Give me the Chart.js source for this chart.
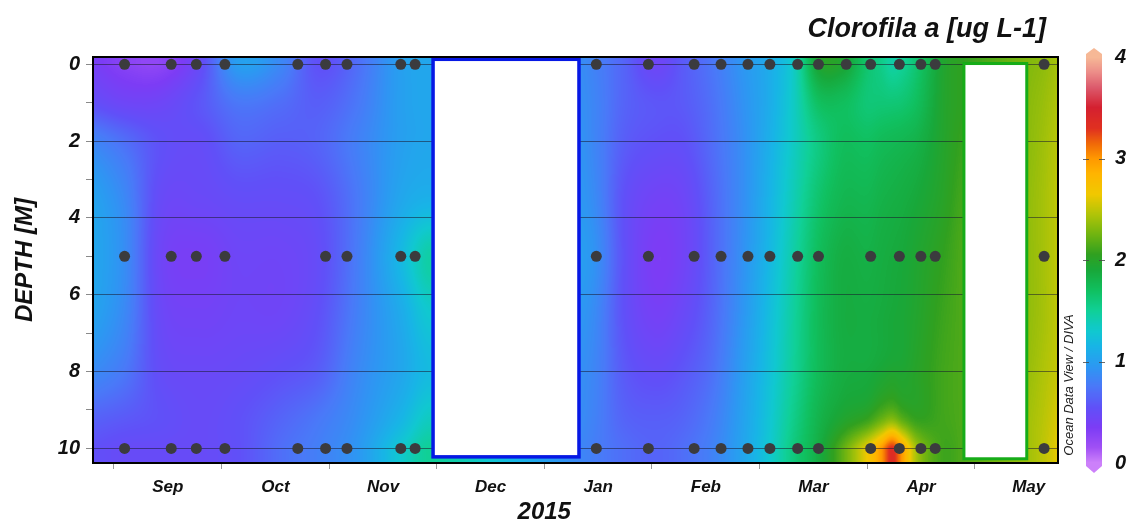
<!DOCTYPE html>
<html>
<head>
<meta charset="utf-8">
<title>Clorofila a</title>
<script src="https://cdn.jsdelivr.net/npm/chart.js@4.4.1/dist/chart.umd.min.js"></script>
<style>
  html, body { margin: 0; padding: 0; background: #fff; }
  #wrap { width: 1132px; height: 523px; }
</style>
</head>
<body>
<div id="wrap"><canvas id="chl"></canvas></div>
<script>
// Fechas de muestreo en cada profundidad (0, 5 y 10 m)
const surfaceDates = ['2014-09-04', '2014-09-17', '2014-09-24', '2014-10-02', '2014-10-23', '2014-10-31',
  '2014-11-06', '2014-11-21', '2014-11-25', '2015-01-16', '2015-01-31', '2015-02-12', '2015-02-19',
  '2015-02-26', '2015-03-04', '2015-03-12', '2015-03-18', '2015-03-26', '2015-04-02', '2015-04-10',
  '2015-04-16', '2015-04-20', '2015-05-21'];
const midDates = ['2014-09-04', '2014-09-17', '2014-09-24', '2014-10-02', '2014-10-31',
  '2014-11-06', '2014-11-21', '2014-11-25', '2015-01-16', '2015-01-31', '2015-02-12', '2015-02-19',
  '2015-02-26', '2015-03-04', '2015-03-12', '2015-03-18', '2015-04-02', '2015-04-10',
  '2015-04-16', '2015-04-20', '2015-05-21'];
const bottomDates = ['2014-09-04', '2014-09-17', '2014-09-24', '2014-10-02', '2014-10-23', '2014-10-31',
  '2014-11-06', '2014-11-21', '2014-11-25', '2015-01-16', '2015-01-31', '2015-02-12', '2015-02-19',
  '2015-02-26', '2015-03-04', '2015-03-12', '2015-03-18', '2015-04-02', '2015-04-10',
  '2015-04-16', '2015-04-20', '2015-05-21'];

// Malla del campo de clorofila (ug/L): un perfil por fecha, valores en gridDepths
const gridDates = ['2014-08-25', '2014-09-04', '2014-09-14', '2014-09-25', '2014-10-06', '2014-10-18',
  '2014-10-29', '2014-11-09', '2014-11-21', '2014-11-30', '2015-01-11', '2015-01-16', '2015-01-24',
  '2015-02-02', '2015-02-09', '2015-02-17', '2015-02-25', '2015-03-04', '2015-03-11', '2015-03-18',
  '2015-03-25', '2015-04-01', '2015-04-05', '2015-04-08', '2015-04-11', '2015-04-15', '2015-04-22',
  '2015-04-28', '2015-05-16', '2015-05-21', '2015-05-25'];
const gridDepths = [0, 1, 2, 3.5, 5, 6.5, 8, 9.2, 10];
const chlProfiles = [
  [0.40, 0.55, 0.85, 1.05, 1.08, 1.05, 0.88, 0.65, 0.55],
  [0.28, 0.45, 0.70, 0.85, 0.88, 0.85, 0.75, 0.60, 0.50],
  [0.25, 0.45, 0.55, 0.50, 0.45, 0.48, 0.52, 0.55, 0.50],
  [0.50, 0.58, 0.52, 0.48, 0.38, 0.42, 0.48, 0.50, 0.50],
  [1.00, 0.75, 0.65, 0.52, 0.45, 0.45, 0.50, 0.55, 0.55],
  [0.85, 0.70, 0.62, 0.52, 0.45, 0.45, 0.55, 0.65, 0.70],
  [0.55, 0.62, 0.65, 0.56, 0.52, 0.55, 0.62, 0.75, 0.80],
  [0.70, 0.75, 0.80, 0.76, 0.78, 0.80, 0.85, 0.90, 0.95],
  [1.00, 1.00, 1.00, 1.05, 1.18, 1.08, 1.05, 1.15, 1.30],
  [1.05, 1.05, 1.05, 1.12, 1.45, 1.30, 1.20, 1.35, 1.50],
  [0.88, 0.90, 0.92, 0.95, 1.00, 0.95, 0.90, 0.88, 0.85],
  [0.80, 0.82, 0.82, 0.85, 0.90, 0.85, 0.82, 0.80, 0.78],
  [0.65, 0.65, 0.62, 0.55, 0.55, 0.55, 0.60, 0.65, 0.70],
  [0.45, 0.58, 0.55, 0.42, 0.35, 0.40, 0.52, 0.62, 0.65],
  [0.60, 0.60, 0.55, 0.45, 0.42, 0.48, 0.58, 0.65, 0.70],
  [0.75, 0.72, 0.70, 0.66, 0.65, 0.67, 0.72, 0.78, 0.82],
  [0.95, 0.92, 0.90, 0.90, 0.92, 0.95, 1.00, 1.03, 1.05],
  [1.10, 1.10, 1.12, 1.15, 1.18, 1.22, 1.25, 1.28, 1.30],
  [1.35, 1.35, 1.35, 1.40, 1.45, 1.48, 1.50, 1.55, 1.60],
  [1.95, 1.70, 1.58, 1.65, 1.72, 1.74, 1.74, 1.80, 1.85],
  [1.95, 1.72, 1.72, 1.78, 1.85, 1.86, 1.86, 1.95, 2.20],
  [1.65, 1.62, 1.70, 1.78, 1.83, 1.86, 1.88, 2.05, 2.65],
  [1.55, 1.62, 1.74, 1.82, 1.86, 1.88, 1.92, 2.20, 3.00],
  [1.45, 1.62, 1.76, 1.84, 1.88, 1.90, 1.95, 2.28, 3.35],
  [1.50, 1.64, 1.78, 1.86, 1.90, 1.92, 1.95, 2.15, 2.95],
  [1.65, 1.72, 1.82, 1.90, 1.95, 1.97, 2.00, 2.05, 2.40],
  [1.95, 1.96, 1.97, 2.00, 2.05, 2.08, 2.10, 2.10, 2.10],
  [2.05, 2.05, 2.08, 2.12, 2.15, 2.15, 2.15, 2.15, 2.15],
  [2.30, 2.32, 2.33, 2.35, 2.35, 2.35, 2.37, 2.40, 2.40],
  [2.35, 2.38, 2.40, 2.42, 2.42, 2.42, 2.45, 2.48, 2.50],
  [2.42, 2.45, 2.48, 2.50, 2.50, 2.50, 2.52, 2.58, 2.62]
];

// Periodos sin datos (se tapan en blanco)
const gapStarts = ['2014-11-30', '2015-04-28'];
const gapEnds = ['2015-01-11', '2015-05-16'];

// Ejes
const monthLabels = ['Sep', 'Oct', 'Nov', 'Dec', 'Jan', 'Feb', 'Mar', 'Apr', 'May'];
const monthTicks = [-4, -3, -2, -1, 0, 1, 2, 3, 4];
const depthTicks = [0, 1, 2, 3, 4, 5, 6, 7, 8, 9, 10];
const colorTicks = [0, 1, 2, 3, 4];

// Paleta ODV: valor -> color
const colorStops = [
  [0.00, '#cc80fa'], [0.15, '#a050f5'], [0.35, '#7c3cf5'], [0.55, '#6050f8'],
  [0.75, '#4a78f8'], [0.95, '#2c98f2'], [1.15, '#18b4e6'], [1.30, '#10c8d0'],
  [1.50, '#10d096'], [1.70, '#10c060'], [1.90, '#18a83a'], [2.05, '#30a020'],
  [2.25, '#70b410'], [2.45, '#b0c408'], [2.65, '#f0c800'], [2.85, '#ffb400'],
  [3.00, '#ff9800'], [3.15, '#f06808'], [3.30, '#e03020'], [3.50, '#d42030'],
  [3.70, '#dc5a6c'], [3.85, '#ec8c88'], [4.00, '#f6b896']
];

const FONT = "'Liberation Sans', Arial, sans-serif";

// fecha -> meses desde 2015-01-01 (cada mes ocupa lo mismo)
function monthCoord(s) {
  const [y, m, d] = s.split('-').map(Number);
  const days = new Date(y, m, 0).getDate();
  return (y - 2015) * 12 + (m - 1) + (d - 1) / days;
}

function hexRgb(h) {
  return [parseInt(h.slice(1, 3), 16), parseInt(h.slice(3, 5), 16), parseInt(h.slice(5, 7), 16)];
}

// tabla de colores 0..4 cada 0.01
const lut = (() => {
  const out = [];
  const stops = colorStops.map(([v, c]) => [v, hexRgb(c)]);
  for (let i = 0; i <= 400; i++) {
    const v = i / 100;
    let k = 0;
    while (k < stops.length - 2 && v > stops[k + 1][0]) k++;
    const [v0, c0] = stops[k], [v1, c1] = stops[k + 1];
    const t = Math.min(1, Math.max(0, (v - v0) / (v1 - v0)));
    out.push(c0.map((c, j) => Math.round(c + (c1[j] - c) * t)));
  }
  return out;
})();

function colorFor(v) {
  const i = Math.round(Math.min(4, Math.max(0, v)) * 100);
  return lut[i];
}

function slope(xs, vs, i) {
  const n = xs.length;
  if (i === 0) return (vs[1] - vs[0]) / (xs[1] - xs[0]);
  if (i === n - 1) return (vs[n - 1] - vs[n - 2]) / (xs[n - 1] - xs[n - 2]);
  return (vs[i + 1] - vs[i - 1]) / (xs[i + 1] - xs[i - 1]);
}

// interpolación cúbica de Hermite sobre una malla irregular
function hermite(xs, vs, t) {
  const n = xs.length;
  if (t <= xs[0]) return vs[0];
  if (t >= xs[n - 1]) return vs[n - 1];
  let i = 0;
  while (t > xs[i + 1]) i++;
  const dx = xs[i + 1] - xs[i];
  const s = (t - xs[i]) / dx, s2 = s * s, s3 = s2 * s;
  const m0 = slope(xs, vs, i) * dx, m1 = slope(xs, vs, i + 1) * dx;
  return (2 * s3 - 3 * s2 + 1) * vs[i] + (s3 - 2 * s2 + s) * m0 +
    (-2 * s3 + 3 * s2) * vs[i + 1] + (s3 - s2) * m1;
}

// Campo de color bajo la rejilla
const fieldPlugin = {
  id: 'campo',
  beforeDraw(chart) {
    const { ctx, chartArea: a, scales: { x, y } } = chart;
    const left = Math.round(a.left), top = Math.round(a.top);
    const w = Math.round(a.right) - left, h = Math.round(a.bottom) - top;
    const off = document.createElement('canvas');
    off.width = w; off.height = h;
    const octx = off.getContext('2d');
    const img = octx.createImageData(w, h);
    const gx = gridDates.map(monthCoord);
    const rows = gridDepths.map((_, k) => chlProfiles.map(p => p[k]));
    const depthAt = [];
    for (let j = 0; j < h; j++) depthAt.push(y.getValueForPixel(top + j + 0.5));
    const col = new Array(gridDepths.length);
    for (let i = 0; i < w; i++) {
      const xv = x.getValueForPixel(left + i + 0.5);
      for (let k = 0; k < rows.length; k++) col[k] = hermite(gx, rows[k], xv);
      for (let j = 0; j < h; j++) {
        const c = colorFor(hermite(gridDepths, col, depthAt[j]));
        const p = (j * w + i) * 4;
        img.data[p] = c[0]; img.data[p + 1] = c[1]; img.data[p + 2] = c[2]; img.data[p + 3] = 255;
      }
    }
    octx.putImageData(img, 0, 0);
    ctx.drawImage(off, left, top);
  }
};

// Cajas blancas de los huecos, encima de la rejilla y bajo los puntos
const gapPlugin = {
  id: 'huecos',
  beforeDatasetsDraw(chart, args, opts) {
    const { ctx, scales: { x, y } } = chart;
    ctx.save();
    gapStarts.forEach((d, i) => {
      const x1 = x.getPixelForValue(monthCoord(d));
      const x2 = x.getPixelForValue(monthCoord(gapEnds[i]));
      const y1 = y.getPixelForValue(opts.tops[i]);
      const y2 = y.getPixelForValue(opts.bottoms[i]);
      ctx.fillStyle = '#fff';
      ctx.fillRect(x1, y1, x2 - x1, y2 - y1);
      ctx.strokeStyle = opts.colors[i];
      ctx.lineWidth = opts.widths[i];
      ctx.strokeRect(x1, y1, x2 - x1, y2 - y1);
    });
    ctx.restore();
  }
};

// Marco, títulos y barra de color
const decorPlugin = {
  id: 'decor',
  afterDatasetsDraw(chart) {
    const { ctx, chartArea: a } = chart;
    ctx.save();
    ctx.strokeStyle = '#000';
    ctx.lineWidth = 2;
    ctx.strokeRect(a.left, a.top, a.right - a.left, a.bottom - a.top);
    ctx.restore();
  },
  afterDraw(chart) {
    const { ctx, chartArea: a, scales: { x, cbar } } = chart;
    ctx.save();
    ctx.fillStyle = '#111';
    ctx.font = `italic bold 27px ${FONT}`;
    ctx.textAlign = 'right';
    ctx.textBaseline = 'middle';
    ctx.fillText('Clorofila a [ug L-1]', a.right - 12, 30);

    ctx.font = `italic bold 24px ${FONT}`;
    ctx.textAlign = 'center';
    ctx.fillText('2015', x.getPixelForValue(0), 512);

    ctx.save();
    ctx.translate(a.right + 11, 385);
    ctx.rotate(-Math.PI / 2);
    ctx.font = `italic 13px ${FONT}`;
    ctx.fillStyle = '#222';
    ctx.fillText('Ocean Data View / DIVA', 0, 0);
    ctx.restore();

    // barra de color
    const bx = a.right + 28, bw = 16;
    const y0 = cbar.getPixelForValue(0), y4 = cbar.getPixelForValue(4);
    for (let py = Math.floor(y4); py < Math.ceil(y0); py++) {
      const c = colorFor(cbar.getValueForPixel(py + 0.5));
      ctx.fillStyle = `rgb(${c[0]},${c[1]},${c[2]})`;
      ctx.fillRect(bx, py, bw, 1);
    }
    const capTop = colorFor(4), capBot = colorFor(0);
    ctx.fillStyle = `rgb(${capTop[0]},${capTop[1]},${capTop[2]})`;
    ctx.beginPath();
    ctx.moveTo(bx, y4 + 0.5); ctx.lineTo(bx, y4 - 3); ctx.lineTo(bx + bw / 2, y4 - 9);
    ctx.lineTo(bx + bw, y4 - 3); ctx.lineTo(bx + bw, y4 + 0.5); ctx.closePath(); ctx.fill();
    ctx.fillStyle = `rgb(${capBot[0]},${capBot[1]},${capBot[2]})`;
    ctx.beginPath();
    ctx.moveTo(bx, y0 - 0.5); ctx.lineTo(bx, y0 + 3); ctx.lineTo(bx + bw / 2, y0 + 10);
    ctx.lineTo(bx + bw, y0 + 3); ctx.lineTo(bx + bw, y0 - 0.5); ctx.closePath(); ctx.fill();
    ctx.strokeStyle = 'rgba(70,70,70,0.8)';
    ctx.lineWidth = 1;
    colorTicks.slice(1, -1).forEach(v => {
      const py = Math.round(cbar.getPixelForValue(v)) + 0.5;
      ctx.beginPath();
      ctx.moveTo(bx - 3, py); ctx.lineTo(bx + 3, py);
      ctx.moveTo(bx + bw - 3, py); ctx.lineTo(bx + bw + 3, py);
      ctx.stroke();
    });
    ctx.restore();
  }
};

function stations(dates, depth) {
  return dates.map(d => ({ x: monthCoord(d), y: depth }));
}

// sin margen extra por las etiquetas de los extremos
function noEdgePadding(s) {
  s.paddingTop = 0; s.paddingBottom = 0; s.paddingLeft = 0; s.paddingRight = 0;
}

const dotStyle = { pointRadius: 5.5, pointHoverRadius: 5.5, backgroundColor: '#3b3b3e', borderWidth: 0, showLine: false };

new Chart(document.getElementById('chl'), {
  type: 'scatter',
  data: {
    datasets: [
      { label: '0 m', data: stations(surfaceDates, 0), ...dotStyle },
      { label: '5 m', data: stations(midDates, 5), ...dotStyle },
      { label: '10 m', data: stations(bottomDates, 10), ...dotStyle }
    ]
  },
  options: {
    responsive: true,
    maintainAspectRatio: false,
    animation: false,
    layout: { padding: { top: 57, left: 0, right: 0, bottom: 0 } },
    plugins: {
      legend: { display: false },
      tooltip: { enabled: false },
      huecos: {
        tops: [-0.13, -0.02],
        bottoms: [10.22, 10.27],
        colors: ['#0618e4', '#16ac18'],
        widths: [3.5, 3]
      }
    },
    scales: {
      x: {
        type: 'linear',
        position: 'bottom',
        min: monthCoord('2014-08-26'),
        max: monthCoord('2015-05-25'),
        afterBuildTicks: s => { s.ticks = monthTicks.map(v => ({ value: v })); },
        afterFit: s => { s.height = 60; noEdgePadding(s); },
        ticks: {
          autoSkip: false,
          maxRotation: 0,
          labelOffset: 54,
          padding: 8,
          color: '#111',
          font: { family: FONT, size: 17, style: 'italic', weight: 'bold' },
          callback: (v, i) => monthLabels[i]
        },
        grid: { drawOnChartArea: false, tickLength: 6, tickColor: '#9a9a9a' },
        border: { display: false }
      },
      y: {
        type: 'linear',
        position: 'left',
        reverse: true,
        min: -0.19,
        max: 10.38,
        afterBuildTicks: s => { s.ticks = depthTicks.map(v => ({ value: v })); },
        afterFit: s => { s.width = 93; noEdgePadding(s); },
        ticks: {
          autoSkip: false,
          padding: 6,
          color: '#111',
          font: { family: FONT, size: 20, style: 'italic', weight: 'bold' },
          callback: v => (v % 2 === 0 ? v : '')
        },
        grid: {
          color: c => (c.tick && c.tick.value % 2 === 0 ? 'rgba(25,25,45,0.55)' : 'rgba(0,0,0,0)'),
          tickColor: '#8a8a8a',
          tickLength: 7,
          lineWidth: 1
        },
        border: { display: false },
        title: {
          display: true,
          text: 'DEPTH [M]',
          color: '#111',
          padding: { top: 11, bottom: 0 },
          font: { family: FONT, size: 24, style: 'italic', weight: 'bold' }
        }
      },
      cbar: {
        type: 'linear',
        position: 'right',
        min: 0,
        max: 4,
        afterBuildTicks: s => { s.ticks = colorTicks.map(v => ({ value: v })); },
        afterFit: s => { s.width = 74; noEdgePadding(s); },
        ticks: {
          padding: 57,
          color: '#111',
          font: { family: FONT, size: 20, style: 'italic', weight: 'bold' }
        },
        grid: { drawOnChartArea: false, drawTicks: false },
        border: { display: false }
      }
    }
  },
  plugins: [fieldPlugin, gapPlugin, decorPlugin]
});
</script>
</body>
</html>
